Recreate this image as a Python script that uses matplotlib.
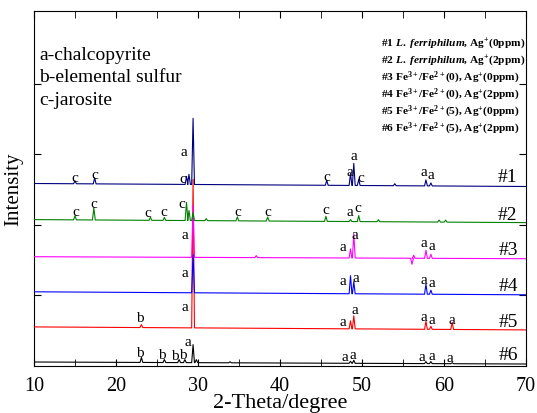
import matplotlib
matplotlib.use("Agg")
import matplotlib.pyplot as plt
import numpy as np

plt.rcParams['font.family'] = 'Liberation Serif'
plt.rcParams['mathtext.fontset'] = 'custom'
plt.rcParams['mathtext.rm'] = 'Liberation Serif:bold'
plt.rcParams['mathtext.it'] = 'Liberation Serif:italic:bold'
plt.rcParams['mathtext.bf'] = 'Liberation Serif:bold'

# baselines (left end, right end) of each stacked pattern
names = ['#1', '#2', '#3', '#4', '#5', '#6']
colors = ['#00007f', '#008000', '#ff00ff', '#0000ff', '#ff0000', '#000000']
base_left = [182, 146, 109, 74, 39, 4]
base_right = [179, 143, 107, 71, 36, 2]

# peak positions (2-theta) and heights above the baseline
peak_pos = [
    [15.0, 17.4, 28.6, 28.9, 29.4, 45.7, 48.6, 49.0, 49.6, 54.0, 57.8, 58.4],
    [15.0, 17.3, 24.2, 25.9, 28.6, 28.9, 29.4, 31.0, 34.8, 38.5, 45.6, 48.6, 49.6, 52.0, 59.4, 60.2],
    [29.4, 37.1, 48.6, 49.0, 56.1, 56.3, 57.8, 58.4],
    [29.4, 48.6, 49.0, 57.8, 58.4],
    [23.1, 29.4, 48.6, 49.0, 57.8, 58.4, 61.0],
    [23.1, 25.9, 27.7, 28.4, 29.4, 29.8, 33.9, 48.6, 49.0, 57.8, 58.4, 61.0],
]
peak_h = [
    [3, 6, 8, 10, 66, 5, 12, 22, 6, 2, 6, 3],
    [4, 12, 3, 3, 18, 10, 8, 2, 4, 4, 5, 2, 6, 2, 2, 2],
    [52, 2, 9, 24, -6, 3, 8, 4],
    [38, 18, 12, 10, 4],
    [3, 148, 8, 13, 8, 3, 7],
    [5, 3, 3, 3, 18, 3, 1, 2, 3, 2, 2, 1],
]

# peak letters: (letter, x, y)
marks = [
    [('c', 15.0, 188), ('c', 17.4, 191), ('c', 28.1, 187), ('a', 28.3, 214),
     ('c', 45.7, 189), ('a', 48.5, 194), ('a', 49.0, 210), ('c', 49.8, 188),
     ('a', 57.6, 194), ('a', 58.4, 191)],
    [('c', 15.1, 154), ('c', 17.3, 162), ('c', 23.9, 153), ('c', 25.8, 154),
     ('c', 28.0, 162), ('c', 34.8, 154), ('c', 38.5, 154), ('c', 45.6, 156),
     ('a', 48.5, 154), ('c', 49.5, 158)],
    [('a', 28.4, 131), ('a', 47.7, 119), ('a', 49.1, 131), ('a', 57.6, 123),
     ('a', 58.5, 120)],
    [('a', 28.4, 93), ('a', 47.7, 85), ('a', 49.2, 88), ('a', 57.6, 86),
     ('a', 58.5, 83)],
    [('b', 22.9, 48), ('a', 28.4, 59), ('a', 47.7, 44), ('a', 49.1, 56),
     ('a', 57.6, 49), ('a', 58.5, 46), ('a', 61.0, 46)],
    [('b', 22.9, 13), ('b', 25.6, 11), ('b', 27.2, 10), ('b', 28.2, 11),
     ('a', 28.8, 24), ('a', 47.9, 9), ('a', 48.9, 11), ('a', 57.3, 9),
     ('a', 58.5, 10), ('a', 60.7, 8)],
]
name_y = [189, 151, 116, 80, 44, 11]

legend_lines = [
    r'#1 $\mathit{L.}$ $\mathit{ferriphilum}$, Ag$^{+}$(0ppm)',
    r'#2 $\mathit{L.}$ $\mathit{ferriphilum}$, Ag$^{+}$(2ppm)',
    r'#3 Fe$^{3+}$/Fe$^{2+}$(0), Ag$^{+}$(0ppm)',
    r'#4 Fe$^{3+}$/Fe$^{2+}$(0), Ag$^{+}$(2ppm)',
    r'#5 Fe$^{3+}$/Fe$^{2+}$(5), Ag$^{+}$(0ppm)',
    r'#6 Fe$^{3+}$/Fe$^{2+}$(5), Ag$^{+}$(2ppm)',
]
phases = ['a-chalcopyrite', 'b-elemental sulfur', 'c-jarosite']

fig = plt.figure(figsize=(5.37, 4.14), dpi=100)
ax = fig.add_axes([0.0633, 0.1135, 0.9162, 0.8575])

w = 0.17
order = [5, 4, 3, 2, 1, 0]
for i in order:
    xs = [10.0]
    ys = [0.0]
    for p, h in sorted(zip(peak_pos[i], peak_h[i])):
        xs += [p - w, p, p + w]
        ys += [0.0, h, 0.0]
    xs.append(70.0)
    ys.append(0.0)
    xs = np.array(xs)
    base = np.interp(xs, [10, 70], [base_left[i], base_right[i]])
    ax.plot(xs, np.array(ys) + base, color=colors[i], lw=0.8, zorder=2 + (6 - i))

for i in range(6):
    for letter, x, y in marks[i]:
        ax.text(x, y, letter, fontsize=11, ha='center', va='center', zorder=10)
    ax.text(67.8, name_y[i], names[i], fontsize=14, ha='center', va='center')

for k, s in enumerate(phases):
    ax.text(10.6, 311 - k * 22.5, s, fontsize=14, ha='left', va='center')

for k, s in enumerate(legend_lines):
    ax.text(52.3, 322 - k * 17, s, fontsize=8.2, ha='left', va='center', fontweight='bold')

ax.set_xlim(10, 70)
ax.set_ylim(0, 354)
ax.set_xticks([10, 20, 30, 40, 50, 60, 70])
ax.set_xticks(np.arange(15, 70, 10), minor=True)
ax.set_yticks([71, 141, 211, 281])
ax.set_yticklabels([])
ax.tick_params(axis='both', which='both', direction='in', top=True, right=True, length=5)
ax.tick_params(axis='x', labelsize=14.5, pad=7)
ax.set_xlabel('2-Theta/degree', fontsize=16, labelpad=-1)
ax.set_ylabel('Intensity', fontsize=15, labelpad=4)

fig.savefig('out.png', dpi=100)
